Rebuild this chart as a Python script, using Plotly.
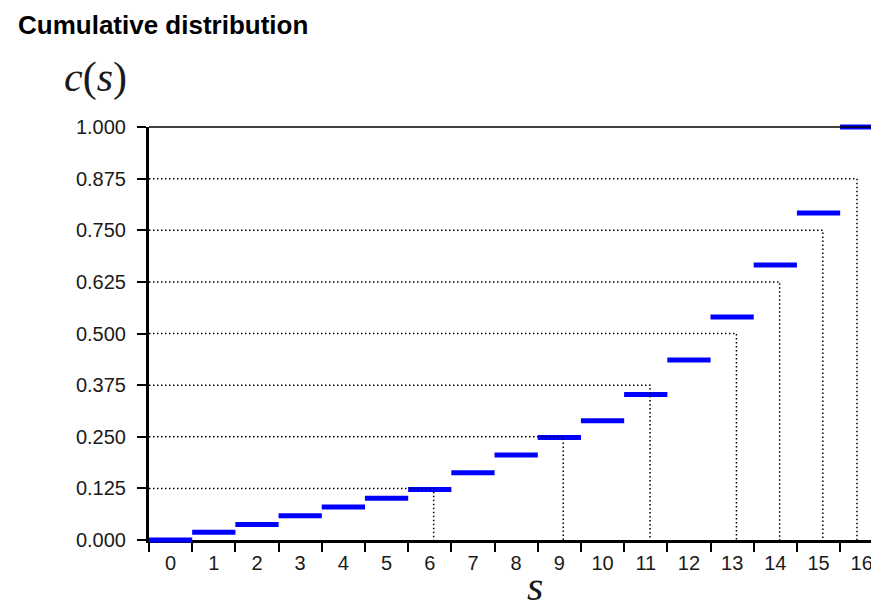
import plotly.graph_objects as go

# ---- data ----
s_values = list(range(17))
tick_labels = [str(s) for s in s_values]
c_values = [0.000, 0.019, 0.0375, 0.0586, 0.080, 0.101, 0.122, 0.163, 0.206,
            0.248, 0.289, 0.352, 0.436, 0.540, 0.666, 0.792, 1.000]
levels = [0.125, 0.250, 0.375, 0.500, 0.625, 0.750, 0.875]
level_x = [6.09, 9.09, 11.10, 13.10, 14.10, 15.10, 15.89]
y_ticks = [0, 0.125, 0.25, 0.375, 0.5, 0.625, 0.75, 0.875, 1.0]

X_MIN = -0.5
X_MAX = 16.4

W, H = 871, 604  # page has an 8px body margin

fig = go.Figure()

# step segments (each spans its category)
fig.add_trace(go.Scatter(
    x=s_values, y=c_values, mode="markers",
    marker=dict(symbol="line-ew", size=30.9, color="#0000ff",
                line=dict(color="#0000ff", width=5)),
    cliponaxis=False, hoverinfo="skip", showlegend=False,
))

# dotted guide lines
gx, gy = [], []
for p, xp in zip(levels, level_x):
    gx += [X_MIN, xp, xp, None]
    gy += [p, p, 0, None]
fig.add_trace(go.Scatter(
    x=gx, y=gy, mode="lines",
    line=dict(color="black", width=1.5, dash="1.5px,2.5px"),
    hoverinfo="skip", showlegend=False,
))

fig.update_layout(
    width=W, height=H,
    margin=dict(l=141, r=0, t=119, b=72, pad=0),
    paper_bgcolor="white", plot_bgcolor="white",
    font=dict(family="Liberation Sans, Arial, sans-serif", color="#1a1a1a"),
    title=dict(text="<b>Cumulative distribution</b>", xref="container", yref="container",
               x=10/W, xanchor="left", y=1-17/H, yanchor="middle",
               font=dict(size=26, color="black", family="Liberation Sans, Arial, sans-serif")),
    xaxis=dict(range=[X_MIN, X_MAX], showgrid=False, zeroline=False,
               showline=True, linecolor="black", linewidth=3, layer="below traces",
               tickmode="array", tickvals=s_values, ticktext=tick_labels,
               ticks="", tickfont=dict(size=20), ticklabelstandoff=3,
               minor=dict(ticks="outside", ticklen=9, tickwidth=2, tickcolor="black",
                          tick0=-0.5, dtick=1, showgrid=False)),
    yaxis=dict(range=[0, 1], showgrid=False, zeroline=False,
               showline=True, linecolor="black", linewidth=3, layer="below traces",
               tickmode="array", tickvals=y_ticks, tickformat=".3f",
               ticks="outside", ticklen=9, tickwidth=1.5, tickcolor="black",
               tickfont=dict(size=20), ticklabelstandoff=7),
    shapes=[dict(type="line", xref="paper", yref="paper", x0=0, x1=1, y0=1, y1=1,
                 line=dict(color="black", width=1.5))],
    annotations=[
        dict(text="<i>c</i>(<i>s</i>)", xref="paper", yref="paper",
             x=-54/730, y=1+50/413, xanchor="center", yanchor="middle", showarrow=False,
             font=dict(family="Liberation Serif, Times New Roman, serif", size=42, color="#1a1a1a")),
        dict(text="<i>s</i>", xref="paper", yref="paper",
             x=(535-149)/730, y=-(586-540)/413, xanchor="center", yanchor="middle", showarrow=False,
             font=dict(family="Liberation Serif, Times New Roman, serif", size=42, color="#1a1a1a")),
    ],
)

fig.write_html("out.html")
